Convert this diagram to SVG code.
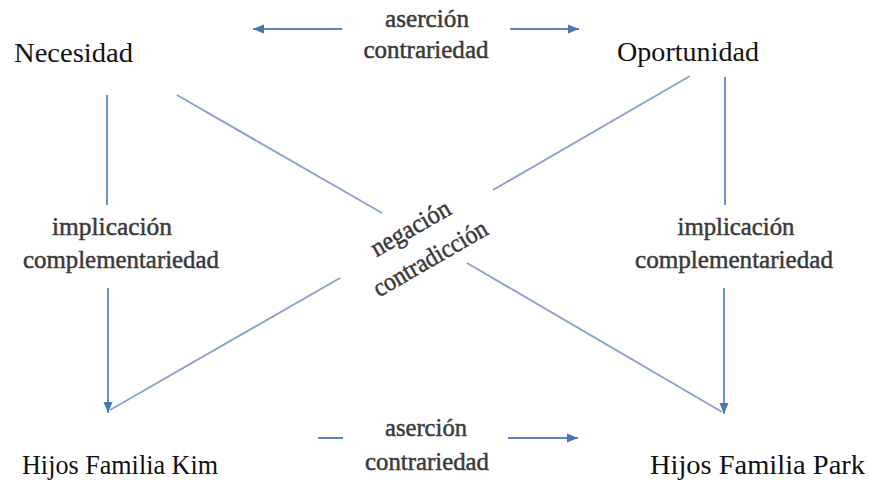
<svg xmlns="http://www.w3.org/2000/svg" width="870" height="487" viewBox="0 0 870 487">
<defs>
<marker id="ah" markerUnits="userSpaceOnUse" markerWidth="12" markerHeight="10" refX="11" refY="5" orient="auto">
<path d="M0,0.5 L11,5 L0,9.5 z" fill="#4a76b5"/>
</marker>
<style>
.node{font-family:'Liberation Serif','Times New Roman',serif;font-size:28px;fill:#111}
.lbl{font-family:'Liberation Serif','Times New Roman',serif;font-size:26px;fill:#3a3a3a;stroke:#3a3a3a;stroke-width:0.5;text-anchor:middle}
.arr{stroke:#5b83bd;stroke-width:2;fill:none}
.diag{stroke:#8aa3cf;stroke-width:2;fill:none}
.vert{stroke:#6f92c6;stroke-width:2;fill:none}
</style>
</defs>
<rect width="870" height="487" fill="#fff"/>
<g id="connectors">
<line class="arr" x1="342" y1="29" x2="253" y2="29" marker-end="url(#ah)"/>
<line class="arr" x1="510" y1="29" x2="579" y2="29" marker-end="url(#ah)"/>
<line class="arr" x1="318" y1="438" x2="343" y2="438"/>
<line class="arr" x1="508" y1="438" x2="578" y2="438" marker-end="url(#ah)"/>
<line class="vert" x1="107" y1="95" x2="107" y2="205"/>
<line class="vert" x1="108" y1="288" x2="108" y2="413" marker-end="url(#ah)"/>
<line class="vert" x1="725" y1="77" x2="725" y2="205"/>
<line class="vert" x1="724" y1="288" x2="724" y2="414" marker-end="url(#ah)"/>
<line class="diag" x1="177" y1="95" x2="382" y2="213"/>
<line class="diag" x1="467" y1="263" x2="722" y2="412"/>
<line class="diag" x1="690" y1="76" x2="493" y2="190"/>
<line class="diag" x1="340" y1="278" x2="110" y2="410"/>
</g>
<g id="edge-labels">
<text class="lbl" x="427" y="27" textLength="84" lengthAdjust="spacingAndGlyphs">aserción</text>
<text class="lbl" x="426" y="58" textLength="125" lengthAdjust="spacingAndGlyphs">contrariedad</text>
<text class="lbl" x="112" y="235" textLength="120" lengthAdjust="spacingAndGlyphs">implicación</text>
<text class="lbl" x="121" y="268" textLength="196" lengthAdjust="spacingAndGlyphs">complementariedad</text>
<text class="lbl" x="736" y="235" textLength="117" lengthAdjust="spacingAndGlyphs">implicación</text>
<text class="lbl" x="734" y="268" textLength="198" lengthAdjust="spacingAndGlyphs">complementariedad</text>
<text class="lbl" x="426" y="436" textLength="82" lengthAdjust="spacingAndGlyphs">aserción</text>
<text class="lbl" x="427" y="470" textLength="124" lengthAdjust="spacingAndGlyphs">contrariedad</text>
<g transform="translate(420.5,243.5) rotate(-30)">
<text class="lbl" x="-1" y="-10" textLength="88" lengthAdjust="spacingAndGlyphs">negación</text>
<text class="lbl" x="1" y="26" textLength="128" lengthAdjust="spacingAndGlyphs">contradicción</text>
</g>
</g>
<g id="node-necesidad"><text class="node" x="14" y="62" textLength="119" lengthAdjust="spacingAndGlyphs">Necesidad</text></g>
<g id="node-oportunidad"><text class="node" x="617" y="61" textLength="142" lengthAdjust="spacingAndGlyphs">Oportunidad</text></g>
<g id="node-kim"><text class="node" x="22" y="474" textLength="196" lengthAdjust="spacingAndGlyphs">Hijos Familia Kim</text></g>
<g id="node-park"><text class="node" x="650" y="474" textLength="215" lengthAdjust="spacingAndGlyphs">Hijos Familia Park</text></g>
</svg>
